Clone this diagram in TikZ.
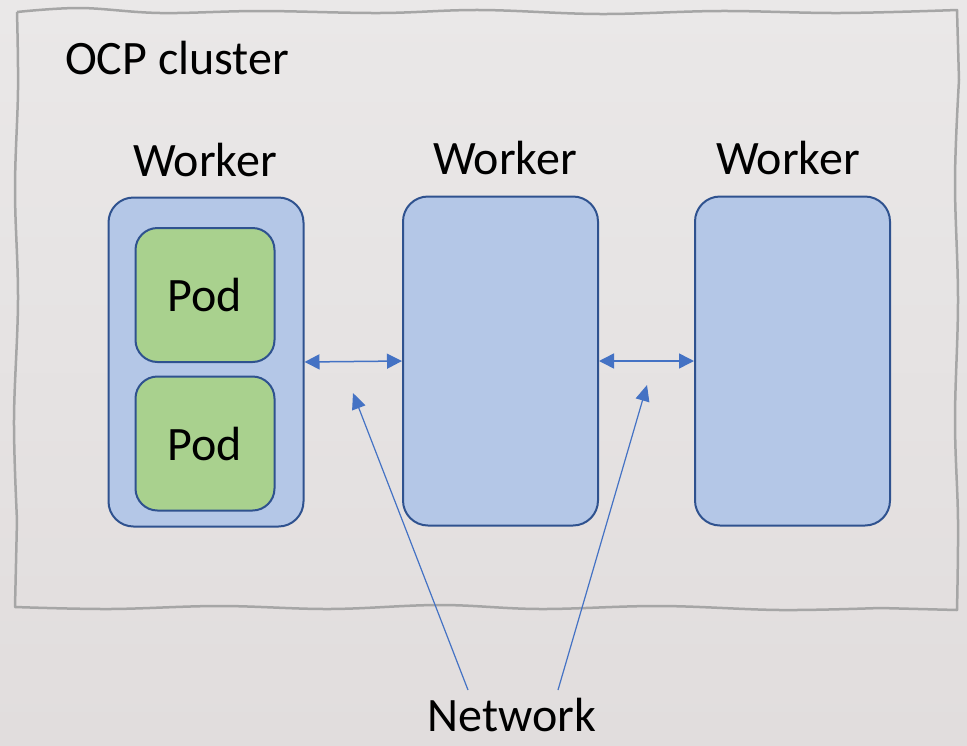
\documentclass[tikz,border=0pt]{standalone}
\usepackage{fontspec}
\setmainfont{Carlito}
\usetikzlibrary{arrows.meta}
\definecolor{bgtop}{HTML}{EAE8E8}
\definecolor{bgbot}{HTML}{E1DDDD}
\definecolor{wavy}{HTML}{A6A6A6}
\definecolor{wfill}{HTML}{B4C7E7}
\definecolor{wdraw}{HTML}{2F528F}
\definecolor{pfill}{HTML}{A9D18E}
\definecolor{lblue}{HTML}{4472C4}
\tikzset{
  worker/.style={draw=wdraw, fill=wfill, line width=2pt, rounded corners=25pt, minimum width=195pt, minimum height=329pt, inner sep=0pt},
  pod/.style={draw=wdraw, fill=pfill, line width=2pt, rounded corners=22pt, minimum width=139pt, minimum height=134pt, inner sep=0pt, font=\fontsize{48}{56}\selectfont},
  lbl/.style={font=\fontsize{48}{56}\selectfont, inner sep=0pt},
  netarrow/.style={draw=lblue, line width=1.5pt, {Triangle[length=15pt,width=15pt]}-{Triangle[length=15pt,width=15pt]}},
  pointer/.style={draw=lblue, line width=1.2pt, -{Triangle[length=16pt,width=14pt]}}
}
\begin{document}
\begin{tikzpicture}[x=1pt,y=-1pt]
\useasboundingbox (0,0) rectangle (967,745);
\shade[top color=bgtop, bottom color=bgbot] (0,0) rectangle (967,745);
% cluster border
\draw[wavy, line width=2.5pt, line join=round] plot[smooth, tension=0.6] coordinates {
 (17,12) (80,8) (160,13) (260,11) (380,13) (480,10) (600,14) (720,11) (840,13) (957,10)}
 -- plot[smooth, tension=0.6] coordinates {(959,80) (955,180) (958,300) (955,420) (958,520) (957,610)}
 -- plot[smooth, tension=0.6] coordinates {(880,608) (780,610) (660,606) (540,609) (440,605) (330,609) (220,606) (110,609) (15,607)}
 -- plot[smooth, tension=0.6] coordinates {(17,520) (14,420) (18,300) (15,190) (18,90) (17,12)};
\node[lbl] (cl) at (177,58) {OCP cluster};
% workers
\node[worker] (w1) at (206,362) {};
\node[worker] (w2) at (500.5,361) {};
\node[worker] (w3) at (792.5,361) {};
\node[lbl] (l1) at (205,160) {Worker};
\node[lbl] (l2) at (505,158) {Worker};
\node[lbl] (l3) at (788,158) {Worker};
\node[pod] (p1) at (205,295) {Pod};
\node[pod] (p2) at (205,443.5) {Pod};
% network arrows
\draw[netarrow] (w1.east) -- (w2.west);
\draw[netarrow] (w2.east) -- (w3.west);
\node[lbl, anchor=base] (net) at (512,731) {Network};
\coordinate (s1) at (468,690);
\coordinate (s2) at (558,690);
\coordinate (t1) at (353,393);
\coordinate (t2) at (647,385);
\draw[pointer] (s1) -- (t1);
\draw[pointer] (s2) -- (t2);
\end{tikzpicture}
\end{document}
